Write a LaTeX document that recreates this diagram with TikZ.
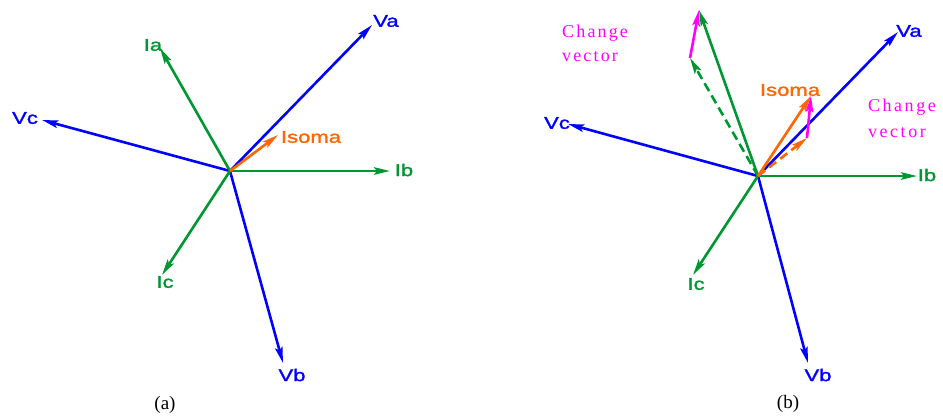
\documentclass[tikz,border=0pt]{standalone}
\usepackage{fontspec}
\setmainfont{Liberation Serif}
\newfontfamily\cadfont[FakeStretch=1.3,FakeBold=1.5]{Liberation Sans}
\usetikzlibrary{arrows.meta}
\definecolor{vblue}{RGB}{0,0,255}
\definecolor{igreen}{RGB}{0,150,50}
\definecolor{iorange}{RGB}{255,102,0}
\definecolor{cmag}{RGB}{255,0,255}
\begin{document}
\begin{tikzpicture}[x=1pt,y=-1pt,
  vec/.style={line width=2.6pt,-{Stealth[length=16pt,width=7.5pt,inset=3pt]}},
  dvec/.style={vec,dash pattern=on 9pt off 5pt},
  lbl/.style={font=\cadfont\fontsize{17}{19}\selectfont,inner sep=0pt},
  chg/.style={font=\fontsize{18}{20}\selectfont\addfontfeature{LetterSpace=12},text=cmag,inner sep=0pt,anchor=base west},
  chgw/.style={font=\fontsize{18}{20}\selectfont\addfontfeature{LetterSpace=14},text=cmag,inner sep=0pt,anchor=base west},
  capt/.style={font=\fontsize{19}{21}\selectfont,inner sep=0pt}]
\useasboundingbox (0,0) rectangle (943,418);
% ---------- panel (a)
\coordinate (Oa) at (230,171);
\coordinate (aVa) at (372,25);
\coordinate (aVb) at (283,363);
\coordinate (aVc) at (42,120);
\coordinate (aIa) at (160,48);
\coordinate (aIb) at (390,171);
\coordinate (aIc) at (162,275);
\coordinate (aIs) at (278,135);
\draw[vec,vblue] (Oa) -- (aVa);
\draw[vec,vblue] (Oa) -- (aVb);
\draw[vec,vblue] (Oa) -- (aVc);
\draw[vec,igreen] (Oa) -- (aIa);
\draw[vec,igreen] (Oa) -- (aIb);
\draw[vec,igreen] (Oa) -- (aIc);
\draw[vec,iorange] (Oa) -- (aIs);
\node[lbl,text=vblue] (laVa) at (386,21) {Va};
\node[lbl,text=vblue] (laVb) at (292,375) {Vb};
\node[lbl,text=vblue] (laVc) at (25,118) {Vc};
\node[lbl,text=igreen] (laIa) at (153,45) {Ia};
\node[lbl,text=igreen] (laIb) at (404,170) {Ib};
\node[lbl,text=igreen] (laIc) at (165,282) {Ic};
\node[lbl,text=iorange] (laIs) at (311,137) {Isoma};
\node[capt] (capa) at (165,405) {(a)};
% ---------- panel (b)
\coordinate (Ob) at (758,176);
\coordinate (bVa) at (898,32);
\coordinate (bVb) at (808,363);
\coordinate (bVc) at (568,124);
\coordinate (bIa) at (699,10);
\coordinate (bIb) at (917,176);
\coordinate (bIc) at (693,275);
\coordinate (bIs) at (811,96);
\coordinate (bIaold) at (690,58);
\coordinate (bIsold) at (807,138);
\draw[vec,vblue] (Ob) -- (bVa);
\draw[vec,vblue] (Ob) -- (bVb);
\draw[vec,vblue] (Ob) -- (bVc);
\draw[vec,igreen] (Ob) -- (bIa);
\draw[vec,igreen] (Ob) -- (bIb);
\draw[vec,igreen] (Ob) -- (bIc);
\draw[dvec,igreen] (Ob) -- (bIaold);
\draw[vec,iorange] (Ob) -- (bIs);
\draw[dvec,iorange] (Ob) -- (bIsold);
\draw[vec,cmag] (bIaold) -- (bIa);
\draw[vec,cmag] (bIsold) -- (bIs);
\node[lbl,text=vblue] (lbVa) at (909,31) {Va};
\node[lbl,text=vblue] (lbVb) at (818,375) {Vb};
\node[lbl,text=vblue] (lbVc) at (557,123) {Vc};
\node[lbl,text=igreen] (lbIb) at (927,175) {Ib};
\node[lbl,text=igreen] (lbIc) at (696,284) {Ic};
\node[lbl,text=iorange] (lbIs) at (790,90) {Isoma};
\node[chg] (cv1a) at (562,37) {Change};
\node[chg] (cv1b) at (562,61) {vector};
\node[chgw] (cv2a) at (868,111) {Change};
\node[chgw] (cv2b) at (868,137) {vector};
\node[capt] (capb) at (788,404) {(b)};
\end{tikzpicture}
\end{document}
